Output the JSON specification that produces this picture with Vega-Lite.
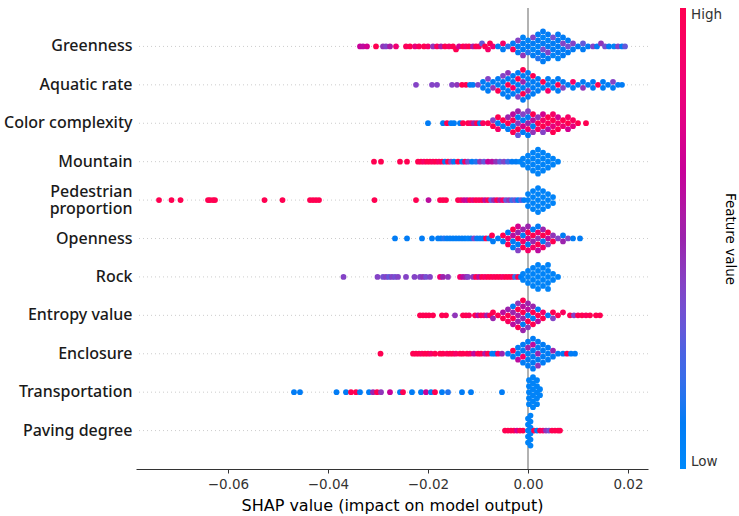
{
  "$schema": "https://vega.github.io/schema/vega-lite/v6.json",
  "width": 512,
  "height": 461,
  "autosize": "none",
  "padding": {"left": 136, "top": 8, "right": 91, "bottom": 47},
  "background": "white",
  "config": {"view": {"stroke": null}, "font": "DejaVu Sans"},
  "data": {"values": [
    {"f":1,"x":-0.0336,"l":0,"v":0.65},{"f":1,"x":-0.0330,"l":0,"v":0.6},{"f":1,"x":-0.0322,"l":0,"v":0.7},{"f":1,"x":-0.0304,"l":0,"v":1},
    {"f":1,"x":-0.0290,"l":0,"v":0.45},{"f":1,"x":-0.0284,"l":0,"v":0.4},{"f":1,"x":-0.0276,"l":0,"v":0.55},{"f":1,"x":-0.0264,"l":0,"v":0.85},
    {"f":1,"x":-0.0244,"l":0,"v":0.95},{"f":1,"x":-0.0236,"l":0,"v":1},{"f":1,"x":-0.0226,"l":0,"v":0.8},{"f":1,"x":-0.0218,"l":0,"v":0.95},
    {"f":1,"x":-0.0208,"l":0,"v":1},{"f":1,"x":-0.0200,"l":0,"v":0.9},{"f":1,"x":-0.0190,"l":0,"v":0.45},{"f":1,"x":-0.0182,"l":0,"v":0.95},
    {"f":1,"x":-0.0174,"l":0,"v":0.55},{"f":1,"x":-0.0166,"l":0,"v":1},{"f":1,"x":-0.0158,"l":0,"v":0.9},{"f":1,"x":-0.0150,"l":0,"v":1},
    {"f":1,"x":-0.0144,"l":1,"v":1},{"f":1,"x":-0.0138,"l":0,"v":0.7},{"f":1,"x":-0.0130,"l":0,"v":1},{"f":1,"x":-0.0124,"l":0,"v":0.9},
    {"f":1,"x":-0.0118,"l":0,"v":1},{"f":1,"x":-0.0110,"l":0,"v":0.55},{"f":1,"x":-0.0104,"l":0,"v":1},{"f":1,"x":-0.0098,"l":0,"v":0.95},
    {"f":1,"x":-0.0092,"l":-1,"v":0.3},{"f":1,"x":-0.0086,"l":0,"v":1},{"f":1,"x":-0.0080,"l":1,"v":0.9},{"f":1,"x":-0.0076,"l":-1,"v":1},
    {"f":1,"x":-0.0070,"l":0,"v":0.85},
    {"f":1,"x":-0.006,"l":0,"v":0.1},
    {"f":1,"x":-0.005,"l":-1,"v":0.9},{"f":1,"x":-0.005,"l":1,"v":0.1},
    {"f":1,"x":-0.004,"l":0,"v":0.15},
    {"f":1,"x":-0.003,"l":-1,"v":0.1},{"f":1,"x":-0.003,"l":1,"v":0.95},
    {"f":1,"x":-0.002,"l":0,"v":0.1},{"f":1,"x":-0.002,"l":-2,"v":0.4},{"f":1,"x":-0.002,"l":2,"v":0.1},
    {"f":1,"x":-0.001,"l":-1,"v":0.1},{"f":1,"x":-0.001,"l":1,"v":0.1},{"f":1,"x":-0.001,"l":-3,"v":0.05},{"f":1,"x":-0.001,"l":3,"v":0.45},
    {"f":1,"x":0.000,"l":0,"v":0.1},{"f":1,"x":0.000,"l":-2,"v":0.05},{"f":1,"x":0.000,"l":2,"v":0.15},
    {"f":1,"x":0.001,"l":-1,"v":0.1},{"f":1,"x":0.001,"l":1,"v":0.05},{"f":1,"x":0.001,"l":-3,"v":0.4},{"f":1,"x":0.001,"l":3,"v":0.1},
    {"f":1,"x":0.002,"l":0,"v":0.05},{"f":1,"x":0.002,"l":-2,"v":0.1},{"f":1,"x":0.002,"l":2,"v":0.1},{"f":1,"x":0.002,"l":-4,"v":0.1},{"f":1,"x":0.002,"l":4,"v":0.15},
    {"f":1,"x":0.003,"l":-1,"v":0.1},{"f":1,"x":0.003,"l":1,"v":0.35},{"f":1,"x":0.003,"l":-3,"v":0.05},{"f":1,"x":0.003,"l":3,"v":0.1},{"f":1,"x":0.003,"l":-5,"v":0.1},{"f":1,"x":0.003,"l":5,"v":0.1},
    {"f":1,"x":0.004,"l":0,"v":0.1},{"f":1,"x":0.004,"l":-2,"v":0.05},{"f":1,"x":0.004,"l":2,"v":0.4},{"f":1,"x":0.004,"l":-4,"v":0.1},{"f":1,"x":0.004,"l":4,"v":0.1},
    {"f":1,"x":0.005,"l":-1,"v":0.1},{"f":1,"x":0.005,"l":1,"v":0.1},{"f":1,"x":0.005,"l":-3,"v":0.35},{"f":1,"x":0.005,"l":3,"v":0.05},
    {"f":1,"x":0.006,"l":0,"v":0.1},{"f":1,"x":0.006,"l":-2,"v":0.1},{"f":1,"x":0.006,"l":2,"v":0.1},{"f":1,"x":0.006,"l":-4,"v":0.1},{"f":1,"x":0.006,"l":4,"v":0.05},
    {"f":1,"x":0.007,"l":-1,"v":0.4},{"f":1,"x":0.007,"l":1,"v":0.1},{"f":1,"x":0.007,"l":-3,"v":0.1},{"f":1,"x":0.007,"l":3,"v":0.1},
    {"f":1,"x":0.008,"l":0,"v":0.35},{"f":1,"x":0.008,"l":-2,"v":0.1},{"f":1,"x":0.008,"l":2,"v":0.1},
    {"f":1,"x":0.009,"l":-1,"v":0.4},{"f":1,"x":0.009,"l":1,"v":0.1},
    {"f":1,"x":0.010,"l":0,"v":0.1},
    {"f":1,"x":0.011,"l":-1,"v":0.3},{"f":1,"x":0.011,"l":1,"v":0.1},
    {"f":1,"x":0.012,"l":0,"v":0.1},
    {"f":1,"x":0.0130,"l":0,"v":0.4},{"f":1,"x":0.0138,"l":0,"v":0.1},{"f":1,"x":0.0146,"l":-1,"v":0.45},{"f":1,"x":0.0154,"l":0,"v":0.35},
    {"f":1,"x":0.0162,"l":0,"v":0.1},{"f":1,"x":0.0172,"l":0,"v":0.05},{"f":1,"x":0.0180,"l":0,"v":0.4},{"f":1,"x":0.0188,"l":0,"v":0.1},{"f":1,"x":0.0194,"l":0,"v":0.3},

    {"f":2,"x":-0.0224,"l":0,"v":0.4},{"f":2,"x":-0.0192,"l":0,"v":0.4},{"f":2,"x":-0.0182,"l":0,"v":0.4},{"f":2,"x":-0.0152,"l":0,"v":0.4},
    {"f":2,"x":-0.0142,"l":0,"v":0.45},{"f":2,"x":-0.0132,"l":0,"v":1},{"f":2,"x":-0.0124,"l":0,"v":1},{"f":2,"x":-0.0116,"l":0,"v":0.1},{"f":2,"x":-0.0110,"l":0,"v":0.1},
    {"f":2,"x":-0.010,"l":0,"v":0.4},
    {"f":2,"x":-0.009,"l":-1,"v":0.1},{"f":2,"x":-0.009,"l":1,"v":0.1},
    {"f":2,"x":-0.008,"l":0,"v":0.1},{"f":2,"x":-0.008,"l":-2,"v":0.4},{"f":2,"x":-0.008,"l":2,"v":0.1},
    {"f":2,"x":-0.007,"l":-1,"v":0.1},{"f":2,"x":-0.007,"l":1,"v":0.45},
    {"f":2,"x":-0.006,"l":0,"v":0.1},{"f":2,"x":-0.006,"l":-2,"v":0.1},{"f":2,"x":-0.006,"l":2,"v":1},
    {"f":2,"x":-0.005,"l":-1,"v":0.1},{"f":2,"x":-0.005,"l":1,"v":0.1},{"f":2,"x":-0.005,"l":-3,"v":0.4},{"f":2,"x":-0.005,"l":3,"v":0.1},
    {"f":2,"x":-0.004,"l":0,"v":1},{"f":2,"x":-0.004,"l":-2,"v":0.1},{"f":2,"x":-0.004,"l":2,"v":0.1},{"f":2,"x":-0.004,"l":-4,"v":0.45},{"f":2,"x":-0.004,"l":4,"v":0.1},
    {"f":2,"x":-0.003,"l":-1,"v":0.1},{"f":2,"x":-0.003,"l":1,"v":0.9},{"f":2,"x":-0.003,"l":-3,"v":0.1},{"f":2,"x":-0.003,"l":3,"v":0.1},
    {"f":2,"x":-0.002,"l":0,"v":0.1},{"f":2,"x":-0.002,"l":-2,"v":1},{"f":2,"x":-0.002,"l":2,"v":0.1},{"f":2,"x":-0.002,"l":-4,"v":0.1},{"f":2,"x":-0.002,"l":4,"v":0.4},
    {"f":2,"x":-0.001,"l":-1,"v":0.5},{"f":2,"x":-0.001,"l":1,"v":0.1},{"f":2,"x":-0.001,"l":-3,"v":0.1},{"f":2,"x":-0.001,"l":3,"v":1},{"f":2,"x":-0.001,"l":-5,"v":1},{"f":2,"x":-0.001,"l":5,"v":0.1},
    {"f":2,"x":0.000,"l":0,"v":0.1},{"f":2,"x":0.000,"l":-2,"v":0.1},{"f":2,"x":0.000,"l":2,"v":0.45},{"f":2,"x":0.000,"l":-4,"v":0.1},{"f":2,"x":0.000,"l":4,"v":0.1},
    {"f":2,"x":0.001,"l":-1,"v":0.1},{"f":2,"x":0.001,"l":1,"v":0.1},{"f":2,"x":0.001,"l":-3,"v":1},{"f":2,"x":0.001,"l":3,"v":0.1},
    {"f":2,"x":0.002,"l":0,"v":0.1},{"f":2,"x":0.002,"l":-2,"v":0.1},{"f":2,"x":0.002,"l":2,"v":0.1},
    {"f":2,"x":0.003,"l":-1,"v":1},{"f":2,"x":0.003,"l":1,"v":0.1},
    {"f":2,"x":0.004,"l":0,"v":0.1},{"f":2,"x":0.004,"l":-2,"v":0.1},{"f":2,"x":0.004,"l":2,"v":0.9},
    {"f":2,"x":0.005,"l":-1,"v":0.1},{"f":2,"x":0.005,"l":1,"v":0.1},
    {"f":2,"x":0.006,"l":0,"v":1},{"f":2,"x":0.006,"l":-2,"v":0.1},{"f":2,"x":0.006,"l":2,"v":0.1},
    {"f":2,"x":0.007,"l":-1,"v":0.1},{"f":2,"x":0.007,"l":1,"v":0.4},
    {"f":2,"x":0.008,"l":0,"v":0.1},
    {"f":2,"x":0.009,"l":-1,"v":0.9},{"f":2,"x":0.009,"l":1,"v":0.1},
    {"f":2,"x":0.010,"l":0,"v":0.1},
    {"f":2,"x":0.011,"l":-1,"v":0.1},{"f":2,"x":0.011,"l":1,"v":0.45},
    {"f":2,"x":0.012,"l":0,"v":0.1},
    {"f":2,"x":0.013,"l":-1,"v":0.1},{"f":2,"x":0.013,"l":1,"v":0.1},
    {"f":2,"x":0.014,"l":0,"v":1},
    {"f":2,"x":0.015,"l":-1,"v":0.1},{"f":2,"x":0.015,"l":1,"v":0.1},
    {"f":2,"x":0.016,"l":0,"v":0.1},
    {"f":2,"x":0.017,"l":-1,"v":0.4},{"f":2,"x":0.017,"l":1,"v":0.1},
    {"f":2,"x":0.018,"l":0,"v":0.1},{"f":2,"x":0.0188,"l":0,"v":0.1},

    {"f":3,"x":-0.0200,"l":0,"v":0.1},{"f":3,"x":-0.0170,"l":0,"v":0.1},{"f":3,"x":-0.0162,"l":0,"v":1},{"f":3,"x":-0.0154,"l":0,"v":0.1},
    {"f":3,"x":-0.0148,"l":0,"v":0.1},{"f":3,"x":-0.0136,"l":0,"v":0.1},{"f":3,"x":-0.0130,"l":0,"v":1},{"f":3,"x":-0.0120,"l":0,"v":1},
    {"f":3,"x":-0.0114,"l":0,"v":0.9},{"f":3,"x":-0.0108,"l":0,"v":0.5},{"f":3,"x":-0.0102,"l":0,"v":1},{"f":3,"x":-0.0096,"l":0,"v":0.1},{"f":3,"x":-0.0090,"l":0,"v":0.95},
    {"f":3,"x":-0.008,"l":0,"v":1},
    {"f":3,"x":-0.007,"l":-1,"v":0.4},{"f":3,"x":-0.007,"l":1,"v":1},
    {"f":3,"x":-0.006,"l":0,"v":0.1},{"f":3,"x":-0.006,"l":-2,"v":1},{"f":3,"x":-0.006,"l":2,"v":0.9},
    {"f":3,"x":-0.005,"l":-1,"v":1},{"f":3,"x":-0.005,"l":1,"v":0.1},
    {"f":3,"x":-0.004,"l":0,"v":1},{"f":3,"x":-0.004,"l":-2,"v":0.5},{"f":3,"x":-0.004,"l":2,"v":0.1},
    {"f":3,"x":-0.003,"l":-1,"v":0.95},{"f":3,"x":-0.003,"l":1,"v":0.1},{"f":3,"x":-0.003,"l":-3,"v":0.6},{"f":3,"x":-0.003,"l":3,"v":1},
    {"f":3,"x":-0.002,"l":0,"v":0.45},{"f":3,"x":-0.002,"l":-2,"v":0.1},{"f":3,"x":-0.002,"l":2,"v":1},{"f":3,"x":-0.002,"l":-4,"v":0.5},{"f":3,"x":-0.002,"l":4,"v":0.3},
    {"f":3,"x":-0.001,"l":-1,"v":0.1},{"f":3,"x":-0.001,"l":1,"v":0.7},{"f":3,"x":-0.001,"l":-3,"v":0.4},{"f":3,"x":-0.001,"l":3,"v":0.1},
    {"f":3,"x":0.000,"l":0,"v":0.5},{"f":3,"x":0.000,"l":-2,"v":0.1},{"f":3,"x":0.000,"l":2,"v":0.9},{"f":3,"x":0.000,"l":-4,"v":0.4},{"f":3,"x":0.000,"l":4,"v":0.1},
    {"f":3,"x":0.001,"l":-1,"v":0.6},{"f":3,"x":0.001,"l":1,"v":0.1},{"f":3,"x":0.001,"l":-3,"v":1},{"f":3,"x":0.001,"l":3,"v":0.45},
    {"f":3,"x":0.002,"l":0,"v":1},{"f":3,"x":0.002,"l":-2,"v":0.45},{"f":3,"x":0.002,"l":2,"v":0.9},
    {"f":3,"x":0.003,"l":-1,"v":0.9},{"f":3,"x":0.003,"l":1,"v":1},{"f":3,"x":0.003,"l":-3,"v":0.7},{"f":3,"x":0.003,"l":3,"v":0.4},
    {"f":3,"x":0.004,"l":0,"v":0.95},{"f":3,"x":0.004,"l":-2,"v":1},{"f":3,"x":0.004,"l":2,"v":0.6},
    {"f":3,"x":0.005,"l":-1,"v":1},{"f":3,"x":0.005,"l":1,"v":0.8},{"f":3,"x":0.005,"l":-3,"v":0.9},{"f":3,"x":0.005,"l":3,"v":1},
    {"f":3,"x":0.006,"l":0,"v":0.9},{"f":3,"x":0.006,"l":-2,"v":0.7},{"f":3,"x":0.006,"l":2,"v":1},
    {"f":3,"x":0.007,"l":-1,"v":1},{"f":3,"x":0.007,"l":1,"v":0.85},
    {"f":3,"x":0.008,"l":0,"v":1},{"f":3,"x":0.008,"l":-2,"v":0.9},{"f":3,"x":0.008,"l":2,"v":0.7},
    {"f":3,"x":0.009,"l":-1,"v":0.95},{"f":3,"x":0.009,"l":1,"v":0.8},
    {"f":3,"x":0.010,"l":0,"v":1},{"f":3,"x":0.0116,"l":0,"v":1},

    {"f":4,"x":-0.0308,"l":0,"v":1},{"f":4,"x":-0.0294,"l":0,"v":1},{"f":4,"x":-0.0256,"l":0,"v":1},{"f":4,"x":-0.0242,"l":0,"v":1},
    {"f":4,"x":-0.0220,"l":0,"v":1},{"f":4,"x":-0.0214,"l":0,"v":1},{"f":4,"x":-0.0208,"l":0,"v":0.9},{"f":4,"x":-0.0202,"l":0,"v":1},
    {"f":4,"x":-0.0196,"l":0,"v":1},{"f":4,"x":-0.0190,"l":0,"v":0.95},{"f":4,"x":-0.0184,"l":0,"v":1},{"f":4,"x":-0.0178,"l":0,"v":0.9},
    {"f":4,"x":-0.0172,"l":0,"v":1},{"f":4,"x":-0.0166,"l":0,"v":0.1},{"f":4,"x":-0.0160,"l":0,"v":1},{"f":4,"x":-0.0154,"l":0,"v":0.4},
    {"f":4,"x":-0.0148,"l":0,"v":0.1},{"f":4,"x":-0.0140,"l":0,"v":1},{"f":4,"x":-0.0132,"l":0,"v":0.1},{"f":4,"x":-0.0126,"l":0,"v":0.9},
    {"f":4,"x":-0.0120,"l":0,"v":0.35},{"f":4,"x":-0.0112,"l":0,"v":0.1},{"f":4,"x":-0.0104,"l":0,"v":0.15},{"f":4,"x":-0.0096,"l":0,"v":0.45},
    {"f":4,"x":-0.0088,"l":0,"v":0.3},{"f":4,"x":-0.0080,"l":0,"v":0.65},{"f":4,"x":-0.0072,"l":0,"v":0.6},{"f":4,"x":-0.0064,"l":0,"v":0.45},
    {"f":4,"x":-0.0056,"l":0,"v":0.3},{"f":4,"x":-0.0048,"l":0,"v":0.4},{"f":4,"x":-0.0040,"l":0,"v":0.2},{"f":4,"x":-0.0032,"l":0,"v":0.1},
    {"f":4,"x":-0.0024,"l":0,"v":0.1},{"f":4,"x":-0.0016,"l":0,"v":0.05},
    {"f":4,"x":-0.001,"l":-1,"v":0.05},{"f":4,"x":-0.001,"l":1,"v":0.05},
    {"f":4,"x":0.000,"l":0,"v":0.05},{"f":4,"x":0.000,"l":-2,"v":0.05},{"f":4,"x":0.000,"l":2,"v":0.05},
    {"f":4,"x":0.001,"l":-1,"v":0.05},{"f":4,"x":0.001,"l":1,"v":0.05},{"f":4,"x":0.001,"l":-3,"v":0.05},{"f":4,"x":0.001,"l":3,"v":0.05},
    {"f":4,"x":0.002,"l":0,"v":0.05},{"f":4,"x":0.002,"l":-2,"v":0.05},{"f":4,"x":0.002,"l":2,"v":0.05},{"f":4,"x":0.002,"l":-4,"v":0.05},{"f":4,"x":0.002,"l":4,"v":0.05},
    {"f":4,"x":0.003,"l":-1,"v":0.05},{"f":4,"x":0.003,"l":1,"v":0.05},{"f":4,"x":0.003,"l":-3,"v":0.05},{"f":4,"x":0.003,"l":3,"v":0.05},
    {"f":4,"x":0.004,"l":0,"v":0.05},{"f":4,"x":0.004,"l":-2,"v":0.05},{"f":4,"x":0.004,"l":2,"v":0.05},
    {"f":4,"x":0.005,"l":-1,"v":0.05},{"f":4,"x":0.005,"l":1,"v":0.05},
    {"f":4,"x":0.006,"l":0,"v":0.05},

    {"f":5,"x":-0.0738,"l":0,"v":1},{"f":5,"x":-0.0713,"l":0,"v":1},{"f":5,"x":-0.0695,"l":0,"v":1},
    {"f":5,"x":-0.0640,"l":0,"v":1},{"f":5,"x":-0.0636,"l":0,"v":1},{"f":5,"x":-0.0630,"l":0,"v":1},{"f":5,"x":-0.0626,"l":0,"v":1},
    {"f":5,"x":-0.0527,"l":0,"v":1},{"f":5,"x":-0.0491,"l":0,"v":1},
    {"f":5,"x":-0.0436,"l":0,"v":1},{"f":5,"x":-0.0430,"l":0,"v":1},{"f":5,"x":-0.0424,"l":0,"v":1},{"f":5,"x":-0.0418,"l":0,"v":1},
    {"f":5,"x":-0.0307,"l":0,"v":1},{"f":5,"x":-0.0224,"l":0,"v":1},{"f":5,"x":-0.0199,"l":0,"v":0.6},
    {"f":5,"x":-0.0176,"l":0,"v":1},{"f":5,"x":-0.0170,"l":0,"v":1},{"f":5,"x":-0.0164,"l":0,"v":1},
    {"f":5,"x":-0.0140,"l":0,"v":1},{"f":5,"x":-0.0134,"l":0,"v":0.95},{"f":5,"x":-0.0128,"l":0,"v":0.7},{"f":5,"x":-0.0122,"l":0,"v":0.6},
    {"f":5,"x":-0.0116,"l":0,"v":1},{"f":5,"x":-0.0110,"l":0,"v":0.8},{"f":5,"x":-0.0104,"l":0,"v":1},{"f":5,"x":-0.0098,"l":0,"v":0.95},
    {"f":5,"x":-0.0092,"l":0,"v":1},{"f":5,"x":-0.0086,"l":0,"v":0.6},{"f":5,"x":-0.0080,"l":0,"v":1},{"f":5,"x":-0.0074,"l":0,"v":0.3},
    {"f":5,"x":-0.0068,"l":0,"v":0.5},{"f":5,"x":-0.0062,"l":0,"v":1},{"f":5,"x":-0.0056,"l":0,"v":0.55},{"f":5,"x":-0.0050,"l":0,"v":0.9},
    {"f":5,"x":-0.0044,"l":0,"v":0.3},{"f":5,"x":-0.0038,"l":0,"v":0.45},{"f":5,"x":-0.0032,"l":0,"v":0.2},{"f":5,"x":-0.0026,"l":0,"v":0.35},
    {"f":5,"x":-0.0020,"l":0,"v":0.1},{"f":5,"x":-0.0014,"l":0,"v":0.3},{"f":5,"x":-0.0008,"l":0,"v":0.1},
    {"f":5,"x":0.000,"l":0,"v":0.05},{"f":5,"x":0.000,"l":-2,"v":0.05},{"f":5,"x":0.000,"l":2,"v":0.05},
    {"f":5,"x":0.001,"l":-1,"v":0.05},{"f":5,"x":0.001,"l":1,"v":0.05},{"f":5,"x":0.001,"l":-3,"v":0.05},{"f":5,"x":0.001,"l":3,"v":0.05},
    {"f":5,"x":0.002,"l":0,"v":0.05},{"f":5,"x":0.002,"l":-2,"v":0.05},{"f":5,"x":0.002,"l":2,"v":0.05},{"f":5,"x":0.002,"l":-4,"v":0.05},{"f":5,"x":0.002,"l":4,"v":0.05},
    {"f":5,"x":0.003,"l":-1,"v":0.05},{"f":5,"x":0.003,"l":1,"v":0.05},{"f":5,"x":0.003,"l":-3,"v":0.05},{"f":5,"x":0.003,"l":3,"v":0.05},
    {"f":5,"x":0.004,"l":0,"v":0.05},{"f":5,"x":0.004,"l":-2,"v":0.05},{"f":5,"x":0.004,"l":2,"v":0.05},
    {"f":5,"x":0.005,"l":-1,"v":0.05},{"f":5,"x":0.005,"l":1,"v":0.05},

    {"f":6,"x":-0.0266,"l":0,"v":0.1},{"f":6,"x":-0.0242,"l":0,"v":0.1},{"f":6,"x":-0.0212,"l":0,"v":0.1},{"f":6,"x":-0.0192,"l":0,"v":0.1},
    {"f":6,"x":-0.0180,"l":0,"v":0.1},{"f":6,"x":-0.0174,"l":0,"v":0.1},{"f":6,"x":-0.0168,"l":0,"v":0.15},{"f":6,"x":-0.0162,"l":0,"v":0.1},
    {"f":6,"x":-0.0156,"l":0,"v":0.1},{"f":6,"x":-0.0150,"l":0,"v":0.1},{"f":6,"x":-0.0144,"l":0,"v":0.1},{"f":6,"x":-0.0138,"l":0,"v":0.1},
    {"f":6,"x":-0.0132,"l":0,"v":0.1},{"f":6,"x":-0.0126,"l":0,"v":0.1},{"f":6,"x":-0.0120,"l":0,"v":0.05},{"f":6,"x":-0.0114,"l":0,"v":0.1},
    {"f":6,"x":-0.0108,"l":0,"v":0.4},{"f":6,"x":-0.0102,"l":0,"v":0.1},{"f":6,"x":-0.0096,"l":0,"v":0.1},{"f":6,"x":-0.0090,"l":0,"v":0.1},
    {"f":6,"x":-0.0084,"l":0,"v":1},{"f":6,"x":-0.0078,"l":0,"v":0.1},{"f":6,"x":-0.0072,"l":-1,"v":1},
    {"f":6,"x":-0.007,"l":1,"v":0.1},
    {"f":6,"x":-0.006,"l":0,"v":0.1},
    {"f":6,"x":-0.005,"l":-1,"v":1},{"f":6,"x":-0.005,"l":1,"v":0.1},
    {"f":6,"x":-0.004,"l":0,"v":0.9},{"f":6,"x":-0.004,"l":-2,"v":0.1},{"f":6,"x":-0.004,"l":2,"v":1},
    {"f":6,"x":-0.003,"l":-1,"v":0.6},{"f":6,"x":-0.003,"l":1,"v":0.1},{"f":6,"x":-0.003,"l":-3,"v":1},{"f":6,"x":-0.003,"l":3,"v":0.1},
    {"f":6,"x":-0.002,"l":0,"v":1},{"f":6,"x":-0.002,"l":-2,"v":0.5},{"f":6,"x":-0.002,"l":2,"v":0.1},{"f":6,"x":-0.002,"l":-4,"v":0.7},{"f":6,"x":-0.002,"l":4,"v":0.4},
    {"f":6,"x":-0.001,"l":-1,"v":0.1},{"f":6,"x":-0.001,"l":1,"v":0.9},{"f":6,"x":-0.001,"l":-3,"v":0.5},{"f":6,"x":-0.001,"l":3,"v":1},
    {"f":6,"x":0.000,"l":0,"v":0.7},{"f":6,"x":0.000,"l":-2,"v":1},{"f":6,"x":0.000,"l":2,"v":0.1},{"f":6,"x":0.000,"l":-4,"v":0.5},{"f":6,"x":0.000,"l":4,"v":0.9},
    {"f":6,"x":0.001,"l":-1,"v":1},{"f":6,"x":0.001,"l":1,"v":0.5},{"f":6,"x":0.001,"l":-3,"v":0.1},{"f":6,"x":0.001,"l":3,"v":0.9},
    {"f":6,"x":0.002,"l":0,"v":0.45},{"f":6,"x":0.002,"l":-2,"v":0.9},{"f":6,"x":0.002,"l":2,"v":1},{"f":6,"x":0.002,"l":-4,"v":0.1},{"f":6,"x":0.002,"l":4,"v":0.6},
    {"f":6,"x":0.003,"l":-1,"v":1},{"f":6,"x":0.003,"l":1,"v":0.1},{"f":6,"x":0.003,"l":-3,"v":0.5},{"f":6,"x":0.003,"l":3,"v":0.9},
    {"f":6,"x":0.004,"l":0,"v":0.6},{"f":6,"x":0.004,"l":-2,"v":1},{"f":6,"x":0.004,"l":2,"v":0.4},
    {"f":6,"x":0.005,"l":-1,"v":0.45},{"f":6,"x":0.005,"l":1,"v":1},
    {"f":6,"x":0.006,"l":0,"v":0.4},
    {"f":6,"x":0.007,"l":-1,"v":0.1},{"f":6,"x":0.007,"l":1,"v":0.5},
    {"f":6,"x":0.008,"l":0,"v":0.4},{"f":6,"x":0.009,"l":0,"v":0.1},{"f":6,"x":0.0104,"l":0,"v":0.1},

    {"f":7,"x":-0.0369,"l":0,"v":0.4},{"f":7,"x":-0.0301,"l":0,"v":0.4},{"f":7,"x":-0.0290,"l":0,"v":0.35},{"f":7,"x":-0.0284,"l":0,"v":0.4},
    {"f":7,"x":-0.0278,"l":0,"v":0.3},{"f":7,"x":-0.0272,"l":0,"v":0.4},{"f":7,"x":-0.0266,"l":0,"v":0.35},{"f":7,"x":-0.0260,"l":0,"v":0.4},
    {"f":7,"x":-0.0244,"l":0,"v":0.4},{"f":7,"x":-0.0227,"l":0,"v":0.4},{"f":7,"x":-0.0216,"l":0,"v":0.4},{"f":7,"x":-0.0210,"l":0,"v":0.45},
    {"f":7,"x":-0.0204,"l":0,"v":0.35},{"f":7,"x":-0.0196,"l":0,"v":0.4},{"f":7,"x":-0.0176,"l":0,"v":0.85},{"f":7,"x":-0.0170,"l":0,"v":0.5},
    {"f":7,"x":-0.0160,"l":0,"v":0.45},{"f":7,"x":-0.0136,"l":0,"v":0.9},{"f":7,"x":-0.0130,"l":0,"v":0.6},{"f":7,"x":-0.0124,"l":0,"v":0.5},
    {"f":7,"x":-0.0120,"l":0,"v":0.4},{"f":7,"x":-0.0110,"l":0,"v":0.45},{"f":7,"x":-0.0104,"l":0,"v":1},{"f":7,"x":-0.0098,"l":0,"v":0.6},
    {"f":7,"x":-0.0092,"l":0,"v":1},{"f":7,"x":-0.0086,"l":0,"v":0.9},{"f":7,"x":-0.0080,"l":0,"v":1},{"f":7,"x":-0.0074,"l":0,"v":1},
    {"f":7,"x":-0.0068,"l":0,"v":0.95},{"f":7,"x":-0.0062,"l":0,"v":1},{"f":7,"x":-0.0056,"l":0,"v":1},{"f":7,"x":-0.0050,"l":0,"v":0.9},
    {"f":7,"x":-0.0044,"l":0,"v":1},{"f":7,"x":-0.0038,"l":0,"v":1},{"f":7,"x":-0.0032,"l":0,"v":1},{"f":7,"x":-0.0026,"l":0,"v":0.2},
    {"f":7,"x":-0.0020,"l":0,"v":1},{"f":7,"x":-0.0014,"l":0,"v":0.1},
    {"f":7,"x":-0.001,"l":-1,"v":0.05},{"f":7,"x":-0.001,"l":1,"v":0.05},
    {"f":7,"x":0.000,"l":0,"v":0.05},{"f":7,"x":0.000,"l":-2,"v":0.05},{"f":7,"x":0.000,"l":2,"v":0.05},
    {"f":7,"x":0.001,"l":-1,"v":0.05},{"f":7,"x":0.001,"l":1,"v":0.05},{"f":7,"x":0.001,"l":-3,"v":0.05},{"f":7,"x":0.001,"l":3,"v":0.05},
    {"f":7,"x":0.002,"l":0,"v":0.05},{"f":7,"x":0.002,"l":-2,"v":0.05},{"f":7,"x":0.002,"l":2,"v":0.05},{"f":7,"x":0.002,"l":-4,"v":0.05},{"f":7,"x":0.002,"l":4,"v":0.05},
    {"f":7,"x":0.003,"l":-1,"v":0.05},{"f":7,"x":0.003,"l":1,"v":0.05},{"f":7,"x":0.003,"l":-3,"v":0.05},{"f":7,"x":0.003,"l":3,"v":0.05},
    {"f":7,"x":0.004,"l":0,"v":0.05},{"f":7,"x":0.004,"l":-2,"v":0.05},{"f":7,"x":0.004,"l":2,"v":0.05},{"f":7,"x":0.004,"l":-4,"v":0.05},{"f":7,"x":0.004,"l":4,"v":0.05},
    {"f":7,"x":0.005,"l":-1,"v":0.05},{"f":7,"x":0.005,"l":1,"v":0.05},
    {"f":7,"x":0.006,"l":0,"v":0.05},

    {"f":8,"x":-0.0216,"l":0,"v":1},{"f":8,"x":-0.0210,"l":0,"v":1},{"f":8,"x":-0.0204,"l":0,"v":1},{"f":8,"x":-0.0198,"l":0,"v":1},
    {"f":8,"x":-0.0190,"l":0,"v":1},{"f":8,"x":-0.0172,"l":0,"v":1},{"f":8,"x":-0.0164,"l":0,"v":1},{"f":8,"x":-0.0146,"l":0,"v":0.45},
    {"f":8,"x":-0.0130,"l":0,"v":1},{"f":8,"x":-0.0124,"l":0,"v":1},{"f":8,"x":-0.0118,"l":0,"v":0.95},{"f":8,"x":-0.0106,"l":0,"v":1},
    {"f":8,"x":-0.0100,"l":0,"v":0.6},{"f":8,"x":-0.0094,"l":0,"v":1},{"f":8,"x":-0.0088,"l":0,"v":0.9},{"f":8,"x":-0.0082,"l":0,"v":0.5},{"f":8,"x":-0.0076,"l":0,"v":1},
    {"f":8,"x":-0.007,"l":-1,"v":1},{"f":8,"x":-0.007,"l":1,"v":0.5},
    {"f":8,"x":-0.006,"l":0,"v":1},
    {"f":8,"x":-0.005,"l":-1,"v":0.6},{"f":8,"x":-0.005,"l":1,"v":1},
    {"f":8,"x":-0.004,"l":0,"v":1},{"f":8,"x":-0.004,"l":-2,"v":0.5},{"f":8,"x":-0.004,"l":2,"v":0.95},
    {"f":8,"x":-0.003,"l":-1,"v":0.5},{"f":8,"x":-0.003,"l":1,"v":1},{"f":8,"x":-0.003,"l":-3,"v":0.1},{"f":8,"x":-0.003,"l":3,"v":0.6},
    {"f":8,"x":-0.002,"l":0,"v":0.55},{"f":8,"x":-0.002,"l":-2,"v":1},{"f":8,"x":-0.002,"l":2,"v":0.5},{"f":8,"x":-0.002,"l":-4,"v":0.45},{"f":8,"x":-0.002,"l":4,"v":1},
    {"f":8,"x":-0.001,"l":-1,"v":1},{"f":8,"x":-0.001,"l":1,"v":0.5},{"f":8,"x":-0.001,"l":-3,"v":0.6},{"f":8,"x":-0.001,"l":3,"v":0.1},{"f":8,"x":-0.001,"l":-5,"v":1},{"f":8,"x":-0.001,"l":5,"v":0.5},
    {"f":8,"x":0.000,"l":0,"v":0.1},{"f":8,"x":0.000,"l":-2,"v":0.6},{"f":8,"x":0.000,"l":2,"v":1},{"f":8,"x":0.000,"l":-4,"v":0.5},{"f":8,"x":0.000,"l":4,"v":0.45},
    {"f":8,"x":0.001,"l":-1,"v":1},{"f":8,"x":0.001,"l":1,"v":0.1},{"f":8,"x":0.001,"l":-3,"v":0.5},{"f":8,"x":0.001,"l":3,"v":1},
    {"f":8,"x":0.002,"l":0,"v":1},{"f":8,"x":0.002,"l":-2,"v":0.1},{"f":8,"x":0.002,"l":2,"v":0.6},
    {"f":8,"x":0.003,"l":-1,"v":0.9},{"f":8,"x":0.003,"l":1,"v":1},
    {"f":8,"x":0.004,"l":0,"v":0.1},
    {"f":8,"x":0.005,"l":-1,"v":1},{"f":8,"x":0.005,"l":1,"v":0.4},
    {"f":8,"x":0.006,"l":0,"v":1},
    {"f":8,"x":0.007,"l":-1,"v":0.95},
    {"f":8,"x":0.0084,"l":0,"v":1},{"f":8,"x":0.0092,"l":0,"v":0.4},{"f":8,"x":0.0100,"l":0,"v":1},{"f":8,"x":0.0108,"l":0,"v":1},
    {"f":8,"x":0.0116,"l":0,"v":0.95},{"f":8,"x":0.0124,"l":0,"v":1},{"f":8,"x":0.0136,"l":0,"v":1},{"f":8,"x":0.0144,"l":0,"v":1},

    {"f":9,"x":-0.0295,"l":0,"v":1},{"f":9,"x":-0.0230,"l":0,"v":1},{"f":9,"x":-0.0224,"l":0,"v":1},{"f":9,"x":-0.0218,"l":0,"v":1},
    {"f":9,"x":-0.0212,"l":0,"v":0.95},{"f":9,"x":-0.0206,"l":0,"v":1},{"f":9,"x":-0.0200,"l":0,"v":1},{"f":9,"x":-0.0194,"l":0,"v":0.9},
    {"f":9,"x":-0.0186,"l":0,"v":1},{"f":9,"x":-0.0176,"l":0,"v":1},{"f":9,"x":-0.0170,"l":0,"v":1},{"f":9,"x":-0.0162,"l":0,"v":0.95},
    {"f":9,"x":-0.0156,"l":0,"v":1},{"f":9,"x":-0.0150,"l":0,"v":1},{"f":9,"x":-0.0144,"l":0,"v":0.9},{"f":9,"x":-0.0136,"l":0,"v":1},
    {"f":9,"x":-0.0130,"l":0,"v":1},{"f":9,"x":-0.0122,"l":0,"v":1},{"f":9,"x":-0.0116,"l":0,"v":0.95},{"f":9,"x":-0.0108,"l":0,"v":0.6},
    {"f":9,"x":-0.0100,"l":0,"v":1},{"f":9,"x":-0.0094,"l":0,"v":1},{"f":9,"x":-0.0086,"l":0,"v":0.55},{"f":9,"x":-0.0080,"l":0,"v":1},
    {"f":9,"x":-0.0072,"l":0,"v":0.1},{"f":9,"x":-0.0066,"l":0,"v":0.1},{"f":9,"x":-0.0060,"l":0,"v":0.9},{"f":9,"x":-0.0052,"l":0,"v":0.5},
    {"f":9,"x":-0.004,"l":0,"v":0.1},
    {"f":9,"x":-0.003,"l":-1,"v":1},{"f":9,"x":-0.003,"l":1,"v":0.1},
    {"f":9,"x":-0.002,"l":0,"v":0.1},{"f":9,"x":-0.002,"l":-2,"v":0.1},{"f":9,"x":-0.002,"l":2,"v":0.6},
    {"f":9,"x":-0.001,"l":-1,"v":0.1},{"f":9,"x":-0.001,"l":1,"v":0.9},{"f":9,"x":-0.001,"l":-3,"v":0.1},{"f":9,"x":-0.001,"l":3,"v":0.1},
    {"f":9,"x":0.000,"l":0,"v":0.1},{"f":9,"x":0.000,"l":-2,"v":0.5},{"f":9,"x":0.000,"l":2,"v":0.1},{"f":9,"x":0.000,"l":-4,"v":0.1},{"f":9,"x":0.000,"l":4,"v":0.1},
    {"f":9,"x":0.001,"l":-1,"v":0.1},{"f":9,"x":0.001,"l":1,"v":0.1},{"f":9,"x":0.001,"l":-3,"v":0.6},{"f":9,"x":0.001,"l":3,"v":0.1},{"f":9,"x":0.001,"l":-5,"v":0.1},{"f":9,"x":0.001,"l":5,"v":0.1},
    {"f":9,"x":0.002,"l":0,"v":0.5},{"f":9,"x":0.002,"l":-2,"v":0.1},{"f":9,"x":0.002,"l":2,"v":0.1},{"f":9,"x":0.002,"l":-4,"v":0.1},{"f":9,"x":0.002,"l":4,"v":0.45},
    {"f":9,"x":0.003,"l":-1,"v":0.1},{"f":9,"x":0.003,"l":1,"v":0.1},{"f":9,"x":0.003,"l":-3,"v":0.1},{"f":9,"x":0.003,"l":3,"v":0.1},
    {"f":9,"x":0.004,"l":0,"v":0.1},{"f":9,"x":0.004,"l":-2,"v":0.1},{"f":9,"x":0.004,"l":2,"v":0.1},
    {"f":9,"x":0.005,"l":-1,"v":0.5},{"f":9,"x":0.005,"l":1,"v":0.1},
    {"f":9,"x":0.006,"l":0,"v":0.1},
    {"f":9,"x":0.0070,"l":0,"v":0.1},{"f":9,"x":0.0078,"l":0,"v":1},{"f":9,"x":0.0086,"l":0,"v":0.1},{"f":9,"x":0.0094,"l":0,"v":0.1},

    {"f":10,"x":-0.0468,"l":0,"v":0.1},{"f":10,"x":-0.0456,"l":0,"v":0.1},{"f":10,"x":-0.0383,"l":0,"v":0.1},{"f":10,"x":-0.0364,"l":0,"v":0.1},
    {"f":10,"x":-0.0354,"l":0,"v":1},{"f":10,"x":-0.0344,"l":0,"v":1},{"f":10,"x":-0.0336,"l":0,"v":0.1},{"f":10,"x":-0.0318,"l":0,"v":0.1},
    {"f":10,"x":-0.0310,"l":0,"v":0.5},{"f":10,"x":-0.0302,"l":0,"v":1},{"f":10,"x":-0.0294,"l":0,"v":0.45},{"f":10,"x":-0.0276,"l":0,"v":0.65},
    {"f":10,"x":-0.0256,"l":0,"v":0.1},{"f":10,"x":-0.0250,"l":0,"v":1},{"f":10,"x":-0.0232,"l":0,"v":0.1},{"f":10,"x":-0.0214,"l":0,"v":0.1},
    {"f":10,"x":-0.0204,"l":0,"v":0.65},{"f":10,"x":-0.0194,"l":0,"v":0.1},{"f":10,"x":-0.0186,"l":0,"v":1},{"f":10,"x":-0.0172,"l":0,"v":0.1},
    {"f":10,"x":-0.0160,"l":0,"v":0.15},{"f":10,"x":-0.0132,"l":0,"v":0.1},{"f":10,"x":-0.0114,"l":0,"v":0.1},{"f":10,"x":-0.0052,"l":0,"v":0.1},
    {"f":10,"x":0.0002,"l":0,"v":0.05},{"f":10,"x":0.0002,"l":-2,"v":0.05},{"f":10,"x":0.0002,"l":2,"v":0.05},{"f":10,"x":0.0002,"l":-4,"v":0.05},{"f":10,"x":0.0002,"l":4,"v":0.05},
    {"f":10,"x":0.0010,"l":-1,"v":0.05},{"f":10,"x":0.0010,"l":1,"v":0.05},{"f":10,"x":0.0010,"l":-3,"v":0.05},{"f":10,"x":0.0010,"l":3,"v":0.05},{"f":10,"x":0.0010,"l":-5,"v":0.05},{"f":10,"x":0.0010,"l":5,"v":0.05},
    {"f":10,"x":0.0018,"l":0,"v":0.05},{"f":10,"x":0.0018,"l":-2,"v":0.05},{"f":10,"x":0.0018,"l":2,"v":0.05},{"f":10,"x":0.0018,"l":-4,"v":0.05},{"f":10,"x":0.0018,"l":4,"v":0.05},
    {"f":10,"x":0.0024,"l":-1,"v":0.05},{"f":10,"x":0.0024,"l":1,"v":0.05},

    {"f":11,"x":-0.0046,"l":0,"v":1},{"f":11,"x":-0.0040,"l":0,"v":1},{"f":11,"x":-0.0034,"l":0,"v":1},{"f":11,"x":-0.0028,"l":0,"v":1},
    {"f":11,"x":-0.0022,"l":0,"v":0.7},{"f":11,"x":-0.0016,"l":0,"v":1},{"f":11,"x":-0.0010,"l":0,"v":1},
    {"f":11,"x":0.0000,"l":0,"v":0.05},{"f":11,"x":0.0000,"l":-2,"v":0.05},{"f":11,"x":0.0000,"l":2,"v":0.05},{"f":11,"x":0.0000,"l":-4,"v":0.05},{"f":11,"x":0.0000,"l":4,"v":0.05},
    {"f":11,"x":0.0005,"l":-1,"v":0.05},{"f":11,"x":0.0005,"l":1,"v":0.05},{"f":11,"x":0.0005,"l":-3,"v":0.05},{"f":11,"x":0.0005,"l":3,"v":0.05},{"f":11,"x":0.0005,"l":-5,"v":0.05},{"f":11,"x":0.0005,"l":5,"v":0.05},
    {"f":11,"x":0.0012,"l":0,"v":1},{"f":11,"x":0.0018,"l":0,"v":0.1},{"f":11,"x":0.0024,"l":0,"v":1},{"f":11,"x":0.0030,"l":0,"v":0.9},
    {"f":11,"x":0.0036,"l":0,"v":0.45},{"f":11,"x":0.0042,"l":0,"v":0.35},{"f":11,"x":0.0048,"l":0,"v":1},{"f":11,"x":0.0054,"l":0,"v":1},
    {"f":11,"x":0.0060,"l":0,"v":1},{"f":11,"x":0.0064,"l":0,"v":1}
  ]},
  "layer": [
    {
      "data": {"values": [{"f":1},{"f":2},{"f":3},{"f":4},{"f":5},{"f":6},{"f":7},{"f":8},{"f":9},{"f":10},{"f":11}]},
      "mark": {"type": "rule", "color": "#cccccc", "strokeWidth": 1, "strokeDash": [1, 3]},
      "encoding": {"y": {"field": "f", "type": "ordinal", "bandPosition": 0.5}}
    },
    {
      "data": {"values": [{"x": 0}]},
      "mark": {"type": "rule", "color": "#999999", "strokeWidth": 1.5},
      "encoding": {"x": {"field": "x", "type": "quantitative"}}
    },
    {
      "mark": {"type": "circle", "size": 33, "opacity": 1},
      "encoding": {
        "x": {
          "field": "x", "type": "quantitative",
          "scale": {"domain": [-0.0784, 0.024], "nice": false, "zero": false},
          "title": "SHAP value (impact on model output)",
          "axis": {
            "values": [-0.06, -0.04, -0.02, 0, 0.02], "format": ".2f", "grid": false,
            "domainColor": "#333333", "tickColor": "#333333", "tickSize": 4,
            "labelColor": "#333333", "labelFontSize": 13.5, "labelPadding": 4,
            "titleFontSize": 16, "titleFontWeight": "normal", "titleColor": "#000000", "titlePadding": 7
          }
        },
        "y": {
          "field": "f", "type": "ordinal",
          "scale": {"paddingInner": 0, "paddingOuter": 0.5},
          "axis": {
            "title": null, "domain": false, "ticks": false, "grid": false, "labelPadding": 4,
            "labelFont": "Noto Sans", "labelFontSize": 16, "labelFontWeight": 500, "labelColor": "#1a1a1a", "labelLineHeight": 16.5,
            "labelOffset": {"condition": {"test": "datum.value == 5", "value": -8}, "value": 0},
            "labelExpr": "datum.value == 5 ? ['Pedestrian', 'proportion'] : ['', 'Greenness', 'Aquatic rate', 'Color complexity', 'Mountain', '', 'Openness', 'Rock', 'Entropy value', 'Enclosure', 'Transportation', 'Paving degree'][datum.value]"
          }
        },
        "yOffset": {"field": "l", "type": "quantitative", "scale": {"domain": [-5, 5], "range": [4.2, 34.2]}},
        "color": {
          "field": "v", "type": "quantitative",
          "scale": {
            "domain": [0, 0.125, 0.25, 0.375, 0.5, 0.625, 0.75, 0.875, 1],
            "range": ["#008afb", "#0079f3", "#4a63e3", "#7d49cc", "#9b23ad", "#c2009c", "#e00086", "#f5006d", "#ff0051"],
            "interpolate": "lab"
          },
          "legend": {
            "orient": "none", "legendX": 544, "legendY": 0, "padding": 0,
            "direction": "vertical", "gradientLength": 461, "gradientThickness": 6, "gradientStrokeWidth": 0,
            "values": [0, 1], "labelExpr": "datum.value >= 1 ? 'High' : 'Low'",
            "labelFontSize": 13.5, "labelColor": "#333333", "labelOffset": 5, "labelBaseline": "middle",
            "title": "Feature value", "titleOrient": "right", "titleAngle": 270, "titleFontSize": 13.5,
            "titleFontWeight": "normal", "titleColor": "#000000", "titleAnchor": "middle", "titlePadding": 1
          }
        }
      }
    }
  ]
}
